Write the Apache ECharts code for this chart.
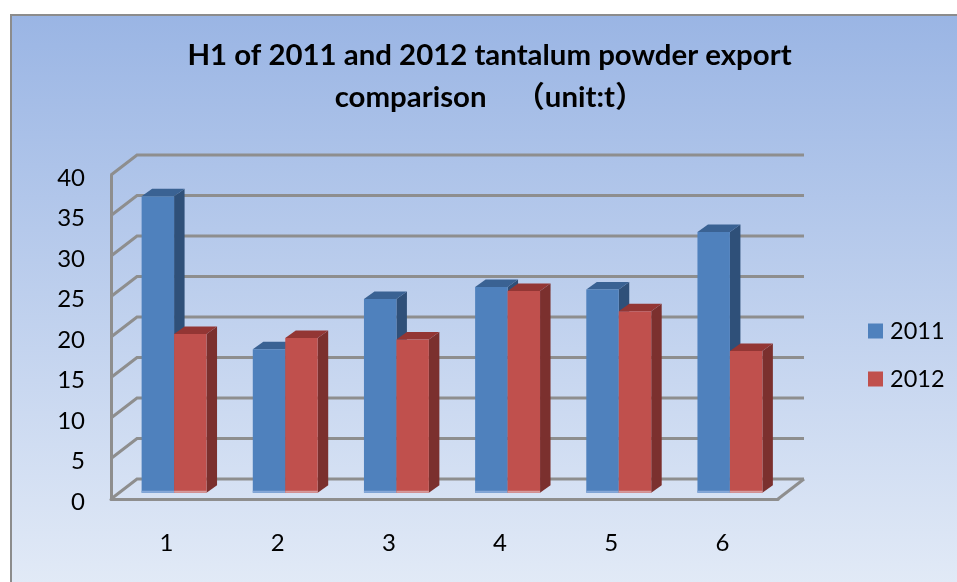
<!DOCTYPE html>
<html>
<head>
<meta charset="utf-8">
<title>tantalum powder export</title>
<style>
  html, body { margin: 0; padding: 0; background: #fff; }
  #chart { width: 957px; height: 582px; }
</style>
<script src="https://cdn.jsdelivr.net/npm/echarts@6/dist/echarts.min.js"></script>
</head>
<body>
<div id="chart"></div>
<script>
const categories = ["1", "2", "3", "4", "5", "6"];
const values2011 = [36.6, 17.7, 23.9, 25.4, 25.1, 32.2];
const values2012 = [19.6, 19.1, 18.9, 24.9, 22.4, 17.5];
const tickValues = [0, 5, 10, 15, 20, 25, 30, 35, 40];

const FONT = "Lato, 'Noto Sans CJK SC', sans-serif";
const GRID_COLOR = "#8e8e8e";

// fake 3d: wall sits behind the axis plane, bars stand in the middle of the floor
const WALL_DX = 26, WALL_DY = -20;
const BAR_DX = 7.5, BAR_DY = -6.3;
const DEPTH_DX = 10.5, DEPTH_DY = -7.5;
const BAR_WIDTH = 0.292;

function wallItem(params, api) {
    const cs = params.coordSys;
    const y = api.coord([0, api.value(0)])[1];
    const x0 = cs.x, x1 = cs.x + cs.width;
    const style = { stroke: GRID_COLOR, lineWidth: 3, fill: null };
    const children = [
        { type: "polyline", shape: { points: [[x0, y], [x0 + WALL_DX, y + WALL_DY], [x1 + WALL_DX, y + WALL_DY]] }, style },
    ];
    if (api.value(0) === 0) {
        children.push({ type: "line", shape: { x1: x1, y1: y, x2: x1 + WALL_DX, y2: y + WALL_DY }, style });
    }
    return { type: "group", children };
}

function barItem(front, side, top, edge, slot) {
    return (params, api) => {
        const band = api.size([1, 0])[0];
        const w = band * BAR_WIDTH;
        const c = api.coord([api.value(0), api.value(1)]);
        const base = api.coord([api.value(0), 0])[1] + BAR_DY;
        const xl = c[0] + BAR_DX + slot * w;
        const xr = xl + w;
        const yt = c[1] + BAR_DY;
        const poly = (points, fill) => ({ type: "polygon", shape: { points }, style: { fill } });
        return {
            type: "group",
            children: [
                poly([[xr, yt], [xr + DEPTH_DX, yt + DEPTH_DY], [xr + DEPTH_DX, base + DEPTH_DY], [xr, base]], side),
                poly([[xl, yt], [xl + DEPTH_DX, yt + DEPTH_DY], [xr + DEPTH_DX, yt + DEPTH_DY], [xr, yt]], top),
                poly([[xl, yt], [xr, yt], [xr, base], [xl, base]], front),
                // the washed out strip along the foot of each bar
                poly([[xl, base - 2], [xr, base - 2], [xr, base], [xl, base]], edge),
            ],
        };
    };
}

const chart = echarts.init(document.getElementById("chart"));
chart.setOption({
    animation: false,
    graphic: [{
        type: "rect",
        z: -10,
        silent: true,
        shape: { x: 11, y: 15, width: 960, height: 580 },
        style: {
            fill: new echarts.graphic.LinearGradient(0, 0, 0, 1, [
                { offset: 0, color: "#9ab5e4" },
                { offset: 1, color: "#e3ebf7" },
            ]),
            stroke: "#8c8c8c",
            lineWidth: 2,
        },
    }],
    title: {
        text: "H1 of 2011 and 2012 tantalum powder export\ncomparison  　（unit:t）",
        left: 484.5,
        top: 30,
        textAlign: "center",
        textStyle: { fontFamily: FONT, fontSize: 29.4, fontWeight: 700, color: "#000", lineHeight: 42 },
    },
    legend: {
        orient: "vertical",
        left: 868,
        top: 317,
        padding: 0,
        itemWidth: 15,
        itemHeight: 15,
        itemGap: 20,
        icon: "rect",
        data: ["2011", "2012"],
        textStyle: { fontFamily: FONT, fontSize: 23.5, color: "#000", padding: [0, 0, 0, 2], lineHeight: 28 },
    },
    grid: { left: 111, right: 179, top: 175, bottom: 83 },
    xAxis: {
        type: "category",
        data: categories,
        axisLine: { show: true, lineStyle: { color: GRID_COLOR, width: 3 } },
        axisTick: { show: false },
        axisLabel: { fontFamily: FONT, fontSize: 24, color: "#000", margin: 32 },
    },
    yAxis: {
        type: "value",
        min: 0,
        max: 40,
        interval: 5,
        splitLine: { show: false },
        axisLine: { show: true, lineStyle: { color: GRID_COLOR, width: 3 } },
        axisTick: { show: false },
        axisLabel: { fontFamily: FONT, fontSize: 24, color: "#000", margin: 26, verticalAlign: "top", lineHeight: 6 },
    },
    series: [
        {
            name: "wall",
            type: "custom",
            silent: true,
            z: 1,
            renderItem: wallItem,
            encode: { y: 0 },
            data: tickValues.map(v => [v]),
        },
        {
            name: "2011",
            type: "custom",
            z: 2,
            itemStyle: { color: "#4f81bd" },
            renderItem: barItem("#4f81bd", "#2f5079", "#3a6293", "#86a8d8", -1),
            encode: { x: 0, y: 1 },
            data: values2011.map((v, i) => [i, v]),
        },
        {
            name: "2012",
            type: "custom",
            z: 3,
            itemStyle: { color: "#c0504d" },
            renderItem: barItem("#c0504d", "#7b302e", "#933634", "#d69a9c", 0),
            encode: { x: 0, y: 1 },
            data: values2012.map((v, i) => [i, v]),
        },
    ],
});
</script>
</body>
</html>
